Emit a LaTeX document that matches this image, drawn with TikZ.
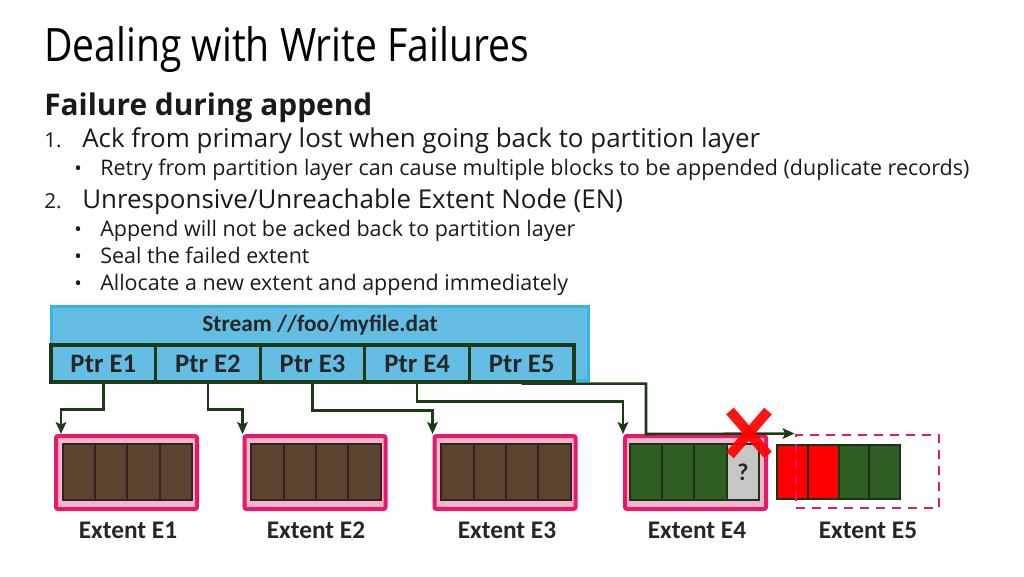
\documentclass[tikz,border=0pt]{standalone}
\usepackage{fontspec}
\setmainfont{Open Sans}
\newfontfamily\titlefont[FakeStretch=0.85]{Open Sans}
\newfontfamily\dfont{Carlito}
\usetikzlibrary{arrows.meta,calc}
\definecolor{txt}{HTML}{1A1A1A}
\definecolor{dtxt}{HTML}{262626}
\definecolor{streamfill}{HTML}{64BEE4}
\definecolor{streamline}{HTML}{35B5EC}
\definecolor{ptrline}{HTML}{1D3A17}
\definecolor{pinkline}{HTML}{E8196A}
\definecolor{pinkfill}{HTML}{F0B8CC}
\definecolor{brownfill}{HTML}{5B4530}
\definecolor{brownline}{HTML}{3B1F1F}
\definecolor{greenfill}{HTML}{2F5E23}
\definecolor{greenline}{HTML}{1B3314}
\definecolor{grayfill}{HTML}{C6C6C6}
\definecolor{xred}{HTML}{FF0000}
\tikzset{
  body/.style={anchor=base west, inner sep=0pt, text=txt},
  streambox/.style={draw=streamline, line width=2.25pt, fill=streamfill, minimum width=402.75pt, minimum height=55.5pt, inner sep=0pt},
  ptrbox/.style={draw=ptrline, line width=2.4pt, fill=streamfill, minimum width=78.45pt, minimum height=27.75pt, inner sep=0pt, text=dtxt, font=\dfont\bfseries\fontsize{20}{22}\selectfont},
  extbox/.style={draw=pinkline, line width=3pt, fill=pinkfill, rounded corners=1.5pt, minimum width=105.75pt, minimum height=54.75pt, inner sep=0pt},
  dashbox/.style={draw=pinkline, line width=2.2pt, dash pattern=on 7pt off 5pt, minimum width=107.25pt, minimum height=54.75pt, inner sep=0pt},
  brownblk/.style={draw=brownline, line width=1.5pt, fill=brownfill, minimum width=24.2pt, minimum height=42pt, inner sep=0pt},
  greenblk/.style={draw=greenline, line width=1.5pt, fill=greenfill, minimum width=24.2pt, minimum height=42pt, inner sep=0pt},
  redblk/.style={draw=greenline, line width=1.5pt, fill=xred, minimum width=23.1pt, minimum height=40.5pt, inner sep=0pt},
  greenblkb/.style={draw=greenline, line width=1.5pt, fill=greenfill, minimum width=23.1pt, minimum height=40.5pt, inner sep=0pt},
  grayblk/.style={draw=greenline, line width=1.5pt, fill=grayfill, minimum width=24.2pt, minimum height=42pt, inner sep=0pt, text=dtxt, font=\dfont\bfseries\fontsize{18}{20}\selectfont},
  extlabel/.style={text=dtxt, inner sep=0pt, font=\dfont\bfseries\fontsize{19}{22}\selectfont},
  conn/.style={draw=ptrline, line width=1.9pt, -{Stealth[length=9pt,width=8pt,inset=2pt]}},
}
\begin{document}
\begin{tikzpicture}[x=0.75pt,y=-0.75pt]
\useasboundingbox (0,0) rectangle (1024,576);
% ---- text ----
\node[body, text=black] (title) at (44,61) {\titlefont\fontsize{34.5}{40}\selectfont Dealing with Write Failures};
\node[body] (sub) at (44,115) {\bfseries\fontsize{22.4}{26}\selectfont Failure during append};
\node[body] (n1) at (44,147) {\fontsize{15.5}{18}\selectfont 1.};
\node[body] (t1) at (82,147) {\fontsize{19.45}{23}\selectfont Ack from primary lost when going back to partition layer};
\node[body] (b1) at (74,175) {\fontsize{15}{18}\selectfont •};
\node[body] (t1a) at (100,175) {\fontsize{16.1}{19}\selectfont Retry from partition layer can cause multiple blocks to be appended (duplicate records)};
\node[body] (n2) at (44,208) {\fontsize{15.5}{18}\selectfont 2.};
\node[body] (t2) at (82,208) {\fontsize{19.45}{23}\selectfont Unresponsive/Unreachable Extent Node (EN)};
\node[body] (b2) at (74,236) {\fontsize{15}{18}\selectfont •};
\node[body] (t2a) at (100,236) {\fontsize{16.1}{19}\selectfont Append will not be acked back to partition layer};
\node[body] (b3) at (74,263) {\fontsize{15}{18}\selectfont •};
\node[body] (t2b) at (100,263) {\fontsize{16.1}{19}\selectfont Seal the failed extent};
\node[body] (b4) at (74,290) {\fontsize{15}{18}\selectfont •};
\node[body] (t2c) at (100,290) {\fontsize{16.1}{19}\selectfont Allocate a new extent and append immediately};
% ---- stream ----
\node[streambox] (stream) at (320,343.5) {};
\node[text=dtxt, inner sep=0pt, font=\dfont\bfseries\fontsize{17.5}{20}\selectfont] (stitle) at (320,325) {Stream //foo/myfile.dat};
\node[ptrbox] (p1) at (103.3,363.5) {Ptr E1};
\node[ptrbox] (p2) at (207.9,363.5) {Ptr E2};
\node[ptrbox] (p3) at (312.5,363.5) {Ptr E3};
\node[ptrbox] (p4) at (417.1,363.5) {Ptr E4};
\node[ptrbox] (p5) at (521.7,363.5) {Ptr E5};
% ---- extents ----
\node[extbox] (e1) at (126.5,472.5) {};
\node[extbox] (e2) at (315,472.5) {};
\node[extbox] (e3) at (505,472.5) {};
\node[extbox] (e4) at (695.5,472.5) {};
\foreach \e/\c in {1/127.5,2/316,3/506}{
  \foreach \i/\d in {1/-48.4,2/-16.1,3/16.1,4/48.4}{
    \node[brownblk] (blk\e\i) at (\c+\d,472) {};
  }
}
\node[greenblk] (g41) at (694.5-48.4,472) {};
\node[greenblk] (g42) at (694.5-16.1,472) {};
\node[greenblk] (g43) at (694.5+16.1,472) {};
\node[grayblk] (g44) at (694.5+48.4,472) {?};
\node[redblk] (g51) at (838.5-46.1,472) {};
\node[redblk] (g52) at (838.5-15.4,472) {};
\node[greenblkb] (g53) at (838.5+15.4,472) {};
\node[greenblkb] (g54) at (838.5+46.1,472) {};
\node[dashbox] (e5) at (867.5,471.5) {};
% ---- labels ----
\node[extlabel] (l1) at (128,530) {Extent E1};
\node[extlabel] (l2) at (316,530) {Extent E2};
\node[extlabel] (l3) at (507,530) {Extent E3};
\node[extlabel] (l4) at (697,530) {Extent E4};
\node[extlabel] (l5) at (868,530) {Extent E5};
% ---- connectors ----
\draw[conn] (p1.south) -- ++(0,26) -| ([xshift=5.25pt]e1.north west);
\draw[conn] (p2.south) -- ++(0,26) -| (e2.north west);
\draw[conn] (p3.south) -- ++(0,27) -| (e3.north west);
\draw[conn] (p4.south) -- ++(0,18) -| (e4.north west);
\coordinate (turn) at (646,434);
\draw[conn] (p5.south) -| (turn) -- (e5.north west);
% ---- red cross ----
\draw[xred, opacity=0.92, line width=7.5pt] ($(e4.north east)+(-38,-23)$) -- ($(e4.north east)+(0,21)$);
\draw[xred, opacity=0.92, line width=7.5pt] ($(e4.north east)+(0,-23)$) -- ($(e4.north east)+(-38,21)$);
\end{tikzpicture}
\end{document}
